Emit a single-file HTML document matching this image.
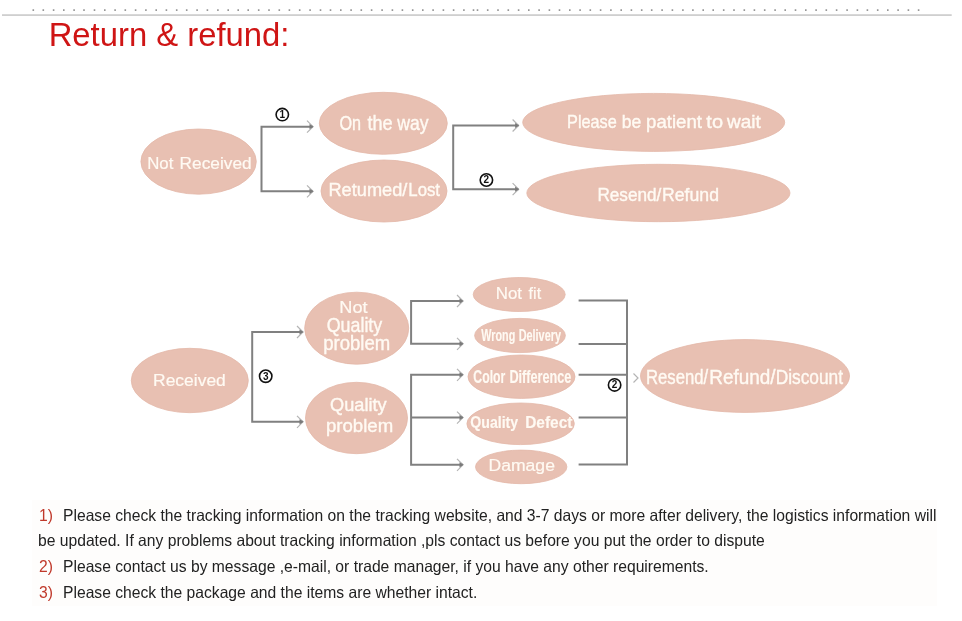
<!DOCTYPE html>
<html><head><meta charset="utf-8"><style>
html,body{margin:0;padding:0;background:#fff;width:962px;height:621px;overflow:hidden;}
body{position:relative;font-family:"Liberation Sans",sans-serif;}
svg{position:absolute;left:0;top:0;will-change:transform;}
.p{position:absolute;font-size:15.67px;color:#222;white-space:pre;line-height:1;will-change:transform;}
.n{color:#c0392b;}
</style></head><body>
<svg width="962" height="621" viewBox="0 0 962 621" font-family="Liberation Sans, sans-serif">
<rect x="32.50" y="9.3" width="1.6" height="1.6" fill="#8c8c8c"/><rect x="42.50" y="9.3" width="1.6" height="1.6" fill="#8c8c8c"/><rect x="52.80" y="9.3" width="1.6" height="1.6" fill="#8c8c8c"/><rect x="63.00" y="9.3" width="1.6" height="1.6" fill="#8c8c8c"/><rect x="73.30" y="9.3" width="1.6" height="1.6" fill="#8c8c8c"/><rect x="83.20" y="9.3" width="1.6" height="1.6" fill="#8c8c8c"/><rect x="93.70" y="9.3" width="1.6" height="1.6" fill="#8c8c8c"/><rect x="104.00" y="9.3" width="1.6" height="1.6" fill="#8c8c8c"/><rect x="114.30" y="9.3" width="1.6" height="1.6" fill="#8c8c8c"/><rect x="124.50" y="9.3" width="1.6" height="1.6" fill="#8c8c8c"/><rect x="134.80" y="9.3" width="1.6" height="1.6" fill="#8c8c8c"/><rect x="145.10" y="9.3" width="1.6" height="1.6" fill="#8c8c8c"/><rect x="155.40" y="9.3" width="1.6" height="1.6" fill="#8c8c8c"/><rect x="165.60" y="9.3" width="1.6" height="1.6" fill="#8c8c8c"/><rect x="175.90" y="9.3" width="1.6" height="1.6" fill="#8c8c8c"/><rect x="185.90" y="9.3" width="1.6" height="1.6" fill="#8c8c8c"/><rect x="196.30" y="9.3" width="1.6" height="1.6" fill="#8c8c8c"/><rect x="206.60" y="9.3" width="1.6" height="1.6" fill="#8c8c8c"/><rect x="217.10" y="9.3" width="1.6" height="1.6" fill="#8c8c8c"/><rect x="227.40" y="9.3" width="1.6" height="1.6" fill="#8c8c8c"/><rect x="237.40" y="9.3" width="1.6" height="1.6" fill="#8c8c8c"/><rect x="247.40" y="9.3" width="1.6" height="1.6" fill="#8c8c8c"/><rect x="257.90" y="9.3" width="1.6" height="1.6" fill="#8c8c8c"/><rect x="268.20" y="9.3" width="1.6" height="1.6" fill="#8c8c8c"/><rect x="278.50" y="9.3" width="1.6" height="1.6" fill="#8c8c8c"/><rect x="288.60" y="9.3" width="1.6" height="1.6" fill="#8c8c8c"/><rect x="298.90" y="9.3" width="1.6" height="1.6" fill="#8c8c8c"/><rect x="309.30" y="9.3" width="1.6" height="1.6" fill="#8c8c8c"/><rect x="319.70" y="9.3" width="1.6" height="1.6" fill="#8c8c8c"/><rect x="329.70" y="9.3" width="1.6" height="1.6" fill="#8c8c8c"/><rect x="340.00" y="9.3" width="1.6" height="1.6" fill="#8c8c8c"/><rect x="350.30" y="9.3" width="1.6" height="1.6" fill="#8c8c8c"/><rect x="360.50" y="9.3" width="1.6" height="1.6" fill="#8c8c8c"/><rect x="370.80" y="9.3" width="1.6" height="1.6" fill="#8c8c8c"/><rect x="381.30" y="9.3" width="1.6" height="1.6" fill="#8c8c8c"/><rect x="391.60" y="9.3" width="1.6" height="1.6" fill="#8c8c8c"/><rect x="401.60" y="9.3" width="1.6" height="1.6" fill="#8c8c8c"/><rect x="411.90" y="9.3" width="1.6" height="1.6" fill="#8c8c8c"/><rect x="422.00" y="9.3" width="1.6" height="1.6" fill="#8c8c8c"/><rect x="432.30" y="9.3" width="1.6" height="1.6" fill="#8c8c8c"/><rect x="442.60" y="9.3" width="1.6" height="1.6" fill="#8c8c8c"/><rect x="452.80" y="9.3" width="1.6" height="1.6" fill="#8c8c8c"/><rect x="463.10" y="9.3" width="1.6" height="1.6" fill="#8c8c8c"/><rect x="472.70" y="9.3" width="1.6" height="1.6" fill="#8c8c8c"/><rect x="476.70" y="9.3" width="1.6" height="1.6" fill="#8c8c8c"/><rect x="486.90" y="9.3" width="1.6" height="1.6" fill="#8c8c8c"/><rect x="497.20" y="9.3" width="1.6" height="1.6" fill="#8c8c8c"/><rect x="507.50" y="9.3" width="1.6" height="1.6" fill="#8c8c8c"/><rect x="517.80" y="9.3" width="1.6" height="1.6" fill="#8c8c8c"/><rect x="528.00" y="9.3" width="1.6" height="1.6" fill="#8c8c8c"/><rect x="538.30" y="9.3" width="1.6" height="1.6" fill="#8c8c8c"/><rect x="548.60" y="9.3" width="1.6" height="1.6" fill="#8c8c8c"/><rect x="558.70" y="9.3" width="1.6" height="1.6" fill="#8c8c8c"/><rect x="569.00" y="9.3" width="1.6" height="1.6" fill="#8c8c8c"/><rect x="579.30" y="9.3" width="1.6" height="1.6" fill="#8c8c8c"/><rect x="589.50" y="9.3" width="1.6" height="1.6" fill="#8c8c8c"/><rect x="599.80" y="9.3" width="1.6" height="1.6" fill="#8c8c8c"/><rect x="610.10" y="9.3" width="1.6" height="1.6" fill="#8c8c8c"/><rect x="620.40" y="9.3" width="1.6" height="1.6" fill="#8c8c8c"/><rect x="630.60" y="9.3" width="1.6" height="1.6" fill="#8c8c8c"/><rect x="640.90" y="9.3" width="1.6" height="1.6" fill="#8c8c8c"/><rect x="650.90" y="9.3" width="1.6" height="1.6" fill="#8c8c8c"/><rect x="661.30" y="9.3" width="1.6" height="1.6" fill="#8c8c8c"/><rect x="671.60" y="9.3" width="1.6" height="1.6" fill="#8c8c8c"/><rect x="682.10" y="9.3" width="1.6" height="1.6" fill="#8c8c8c"/><rect x="692.10" y="9.3" width="1.6" height="1.6" fill="#8c8c8c"/><rect x="702.40" y="9.3" width="1.6" height="1.6" fill="#8c8c8c"/><rect x="712.40" y="9.3" width="1.6" height="1.6" fill="#8c8c8c"/><rect x="722.90" y="9.3" width="1.6" height="1.6" fill="#8c8c8c"/><rect x="733.20" y="9.3" width="1.6" height="1.6" fill="#8c8c8c"/><rect x="743.50" y="9.3" width="1.6" height="1.6" fill="#8c8c8c"/><rect x="753.60" y="9.3" width="1.6" height="1.6" fill="#8c8c8c"/><rect x="763.90" y="9.3" width="1.6" height="1.6" fill="#8c8c8c"/><rect x="774.30" y="9.3" width="1.6" height="1.6" fill="#8c8c8c"/><rect x="784.40" y="9.3" width="1.6" height="1.6" fill="#8c8c8c"/><rect x="794.70" y="9.3" width="1.6" height="1.6" fill="#8c8c8c"/><rect x="805.00" y="9.3" width="1.6" height="1.6" fill="#8c8c8c"/><rect x="815.30" y="9.3" width="1.6" height="1.6" fill="#8c8c8c"/><rect x="825.50" y="9.3" width="1.6" height="1.6" fill="#8c8c8c"/><rect x="835.80" y="9.3" width="1.6" height="1.6" fill="#8c8c8c"/><rect x="846.30" y="9.3" width="1.6" height="1.6" fill="#8c8c8c"/><rect x="856.60" y="9.3" width="1.6" height="1.6" fill="#8c8c8c"/><rect x="866.60" y="9.3" width="1.6" height="1.6" fill="#8c8c8c"/><rect x="876.90" y="9.3" width="1.6" height="1.6" fill="#8c8c8c"/><rect x="887.00" y="9.3" width="1.6" height="1.6" fill="#8c8c8c"/><rect x="897.30" y="9.3" width="1.6" height="1.6" fill="#8c8c8c"/><rect x="907.60" y="9.3" width="1.6" height="1.6" fill="#8c8c8c"/><rect x="917.80" y="9.3" width="1.6" height="1.6" fill="#8c8c8c"/>
<rect x="2" y="14.2" width="949.7" height="1.8" fill="#cfcfcf"/>
<rect x="32" y="500" width="905" height="106" fill="#fefdfc"/>
<text x="48.7" y="46" font-size="32.8" fill="#cf1515">Return &amp; refund:</text>
<ellipse cx="198.6" cy="161.6" rx="57.7" ry="32.6" fill="#e8c0b2" stroke="#e3b7a8" stroke-width="0.8"/>
<ellipse cx="383.3" cy="123.3" rx="64" ry="31" fill="#e8c0b2" stroke="#e3b7a8" stroke-width="0.8"/>
<ellipse cx="384" cy="191" rx="63" ry="31" fill="#e8c0b2" stroke="#e3b7a8" stroke-width="0.8"/>
<ellipse cx="653.7" cy="122.4" rx="131" ry="29" fill="#e8c0b2" stroke="#e3b7a8" stroke-width="0.8"/>
<ellipse cx="658.4" cy="193" rx="131.6" ry="28.7" fill="#e8c0b2" stroke="#e3b7a8" stroke-width="0.8"/>
<ellipse cx="189.8" cy="380.5" rx="58.5" ry="32.2" fill="#e8c0b2" stroke="#e3b7a8" stroke-width="0.8"/>
<ellipse cx="356.7" cy="328.2" rx="52" ry="36" fill="#e8c0b2" stroke="#e3b7a8" stroke-width="0.8"/>
<ellipse cx="356.5" cy="418" rx="51" ry="35.7" fill="#e8c0b2" stroke="#e3b7a8" stroke-width="0.8"/>
<ellipse cx="519.2" cy="294.5" rx="46" ry="17" fill="#e8c0b2" stroke="#e3b7a8" stroke-width="0.8"/>
<ellipse cx="520" cy="335.5" rx="45.4" ry="17.1" fill="#e8c0b2" stroke="#e3b7a8" stroke-width="0.8"/>
<ellipse cx="521.5" cy="376.7" rx="53.5" ry="21.7" fill="#e8c0b2" stroke="#e3b7a8" stroke-width="0.8"/>
<ellipse cx="520.6" cy="423.8" rx="53.7" ry="20.8" fill="#e8c0b2" stroke="#e3b7a8" stroke-width="0.8"/>
<ellipse cx="521.2" cy="466.9" rx="45.7" ry="16.8" fill="#e8c0b2" stroke="#e3b7a8" stroke-width="0.8"/>
<ellipse cx="745" cy="376" rx="104.5" ry="36.4" fill="#e8c0b2" stroke="#e3b7a8" stroke-width="0.8"/>
<polyline points="313,126.7 261.5,126.7 261.5,191.3 313,191.3" fill="none" stroke="#808080" stroke-width="2"/>
<polyline points="518.6,125.5 453.2,125.5 453.2,189.2 518.6,189.2" fill="none" stroke="#808080" stroke-width="2"/>
<polyline points="303,332 252.2,332 252.2,421.8 303,421.8" fill="none" stroke="#808080" stroke-width="2"/>
<polyline points="463,301 411.1,301 411.1,343.8 463,343.8" fill="none" stroke="#808080" stroke-width="2"/>
<polyline points="463,374.8 411.1,374.8 411.1,464.8 463,464.8" fill="none" stroke="#808080" stroke-width="2"/>
<polyline points="411.1,417.6 463,417.6" fill="none" stroke="#808080" stroke-width="2"/>
<polyline points="578.6,300.6 627,300.6 627,464.5 578.6,464.5" fill="none" stroke="#808080" stroke-width="2"/>
<polyline points="578.6,344 627,344" fill="none" stroke="#808080" stroke-width="2"/>
<polyline points="578.6,374.8 627,374.8" fill="none" stroke="#808080" stroke-width="2"/>
<polyline points="578.6,417.6 627,417.6" fill="none" stroke="#808080" stroke-width="2"/>
<polyline points="307,120.7 313,126.7 307,132.7" fill="none" stroke="#b4b4b4" stroke-width="1.2"/>
<polygon points="309.5,124.10000000000001 313.6,126.7 309.5,129.3" fill="#7a7a7a"/>
<polyline points="307,185.3 313,191.3 307,197.3" fill="none" stroke="#b4b4b4" stroke-width="1.2"/>
<polygon points="309.5,188.70000000000002 313.6,191.3 309.5,193.9" fill="#7a7a7a"/>
<polyline points="512.6,119.5 518.6,125.5 512.6,131.5" fill="none" stroke="#b4b4b4" stroke-width="1.2"/>
<polygon points="515.1,122.9 519.2,125.5 515.1,128.1" fill="#7a7a7a"/>
<polyline points="512.6,183.2 518.6,189.2 512.6,195.2" fill="none" stroke="#b4b4b4" stroke-width="1.2"/>
<polygon points="515.1,186.6 519.2,189.2 515.1,191.79999999999998" fill="#7a7a7a"/>
<polyline points="297,326 303,332 297,338" fill="none" stroke="#b4b4b4" stroke-width="1.2"/>
<polygon points="299.5,329.4 303.6,332 299.5,334.6" fill="#7a7a7a"/>
<polyline points="297,415.8 303,421.8 297,427.8" fill="none" stroke="#b4b4b4" stroke-width="1.2"/>
<polygon points="299.5,419.2 303.6,421.8 299.5,424.40000000000003" fill="#7a7a7a"/>
<polyline points="457,295 463,301 457,307" fill="none" stroke="#b4b4b4" stroke-width="1.2"/>
<polygon points="459.5,298.4 463.6,301 459.5,303.6" fill="#7a7a7a"/>
<polyline points="457,337.8 463,343.8 457,349.8" fill="none" stroke="#b4b4b4" stroke-width="1.2"/>
<polygon points="459.5,341.2 463.6,343.8 459.5,346.40000000000003" fill="#7a7a7a"/>
<polyline points="457,368.8 463,374.8 457,380.8" fill="none" stroke="#b4b4b4" stroke-width="1.2"/>
<polygon points="459.5,372.2 463.6,374.8 459.5,377.40000000000003" fill="#7a7a7a"/>
<polyline points="457,411.6 463,417.6 457,423.6" fill="none" stroke="#b4b4b4" stroke-width="1.2"/>
<polygon points="459.5,415.0 463.6,417.6 459.5,420.20000000000005" fill="#7a7a7a"/>
<polyline points="457,458.8 463,464.8 457,470.8" fill="none" stroke="#b4b4b4" stroke-width="1.2"/>
<polygon points="459.5,462.2 463.6,464.8 459.5,467.40000000000003" fill="#7a7a7a"/>
<polyline points="633.5,373.5 638,378 633.5,382.5" fill="none" stroke="#b4b4b4" stroke-width="1.2"/>
<circle cx="282.3" cy="114.6" r="6.2" fill="#fff" stroke="#111" stroke-width="1.6"/>
<text x="282.3" y="118.0" text-anchor="middle" font-size="10" font-weight="bold" fill="#111">1</text>
<circle cx="486.4" cy="180" r="6.2" fill="#fff" stroke="#111" stroke-width="1.6"/>
<text x="486.4" y="183.4" text-anchor="middle" font-size="10" font-weight="bold" fill="#111">2</text>
<circle cx="265.7" cy="376.2" r="6.2" fill="#fff" stroke="#111" stroke-width="1.6"/>
<text x="265.7" y="379.59999999999997" text-anchor="middle" font-size="10" font-weight="bold" fill="#111">3</text>
<circle cx="614.6" cy="384.9" r="6.2" fill="#fff" stroke="#111" stroke-width="1.6"/>
<text x="614.6" y="388.29999999999995" text-anchor="middle" font-size="10" font-weight="bold" fill="#111">2</text>
<text transform="translate(147.21,169) scale(0.9923,1)" font-size="16.93" fill="#fffaf3" stroke="#fffaf3" stroke-width="0.2">Not</text>
<text transform="translate(179.57,169) scale(1.0212,1)" font-size="16.93" fill="#fffaf3" stroke="#fffaf3" stroke-width="0.2">Received</text>
<text transform="translate(339.42,129.9) scale(0.7985,1)" font-size="20.34" fill="#fffaf3" stroke="#fffaf3" stroke-width="0.4">On</text>
<text transform="translate(367.38,129.9) scale(0.8907,1)" font-size="20.34" fill="#fffaf3" stroke="#fffaf3" stroke-width="0.4">the</text>
<text transform="translate(397.35,129.9) scale(0.8667,1)" font-size="20.34" fill="#fffaf3" stroke="#fffaf3" stroke-width="0.4">way</text>
<text transform="translate(328.49,195.9) scale(0.9893,1)" font-size="18.39" fill="#fffaf3" stroke="#fffaf3" stroke-width="0.4">Retumed/</text>
<text transform="translate(408.31,195.9) scale(0.9125,1)" font-size="18.39" fill="#fffaf3" stroke="#fffaf3" stroke-width="0.4">Lost</text>
<text transform="translate(567.05,127.9) scale(0.8775,1)" font-size="18.55" fill="#fffaf3" stroke="#fffaf3" stroke-width="0.4">Please</text>
<text transform="translate(621.81,127.9) scale(0.9433,1)" font-size="18.55" fill="#fffaf3" stroke="#fffaf3" stroke-width="0.4">be</text>
<text transform="translate(646.04,127.9) scale(1.0063,1)" font-size="18.55" fill="#fffaf3" stroke="#fffaf3" stroke-width="0.4">patient</text>
<text transform="translate(706.35,127.9) scale(1.0781,1)" font-size="18.55" fill="#fffaf3" stroke="#fffaf3" stroke-width="0.4">to</text>
<text transform="translate(726.95,127.9) scale(1.0232,1)" font-size="18.55" fill="#fffaf3" stroke="#fffaf3" stroke-width="0.4">wait</text>
<text transform="translate(597.38,200.8) scale(0.9395,1)" font-size="18.28" fill="#fffaf3" stroke="#fffaf3" stroke-width="0.4">Resend/</text>
<text transform="translate(662.04,200.8) scale(0.9664,1)" font-size="18.28" fill="#fffaf3" stroke="#fffaf3" stroke-width="0.4">Refund</text>
<text transform="translate(153.05,385.8) scale(1.0141,1)" font-size="17.22" fill="#fffaf3" stroke="#fffaf3" stroke-width="0.2">Received</text>
<text transform="translate(339.30,313.2) scale(1.0457,1)" font-size="17.37" fill="#fffaf3" stroke="#fffaf3" stroke-width="0.2">Not</text>
<text transform="translate(326.75,332.2) scale(0.9015,1)" font-size="19.79" fill="#fffaf3" stroke="#fffaf3" stroke-width="0.4">Quality</text>
<text transform="translate(323.14,349.6) scale(0.9511,1)" font-size="19.52" fill="#fffaf3" stroke="#fffaf3" stroke-width="0.4">problem</text>
<text transform="translate(330.03,410.8) scale(0.9960,1)" font-size="18.28" fill="#fffaf3" stroke="#fffaf3" stroke-width="0.4">Quality</text>
<text transform="translate(325.94,432) scale(0.9890,1)" font-size="18.83" fill="#fffaf3" stroke="#fffaf3" stroke-width="0.4">problem</text>
<text transform="translate(495.80,299.1) scale(0.9878,1)" font-size="17.08" fill="#fffaf3" stroke="#fffaf3" stroke-width="0.2">Not</text>
<text transform="translate(528.61,299.1) scale(0.9462,1)" font-size="17.08" fill="#fffaf3" stroke="#fffaf3" stroke-width="0.2">fit</text>
<text transform="translate(481.35,341.2) scale(0.6534,1)" font-size="16.50" font-weight="bold" fill="#fffaf3" stroke="#fffaf3" stroke-width="0.15">Wrong</text>
<text transform="translate(518.64,341.2) scale(0.6601,1)" font-size="16.50" font-weight="bold" fill="#fffaf3" stroke="#fffaf3" stroke-width="0.15">Delivery</text>
<text transform="translate(473.36,382.5) scale(0.6825,1)" font-size="17.95" font-weight="bold" fill="#fffaf3" stroke="#fffaf3" stroke-width="0.15">Color</text>
<text transform="translate(509.43,382.5) scale(0.7060,1)" font-size="17.95" font-weight="bold" fill="#fffaf3" stroke="#fffaf3" stroke-width="0.15">Difference</text>
<text transform="translate(470.28,428.2) scale(0.8725,1)" font-size="16.21" font-weight="bold" fill="#fffaf3" stroke="#fffaf3" stroke-width="0.15">Quality</text>
<text transform="translate(525.14,428.2) scale(0.9545,1)" font-size="16.21" font-weight="bold" fill="#fffaf3" stroke="#fffaf3" stroke-width="0.15">Defect</text>
<text transform="translate(488.44,471.4) scale(1.0479,1)" font-size="16.79" fill="#fffaf3" stroke="#fffaf3" stroke-width="0.2">Damage</text>
<text transform="translate(646.01,383.6) scale(0.8608,1)" font-size="19.40" fill="#fffaf3" stroke="#fffaf3" stroke-width="0.4">Resend/</text>
<text transform="translate(709.23,383.6) scale(0.9765,1)" font-size="19.40" fill="#fffaf3" stroke="#fffaf3" stroke-width="0.4">Refund/</text>
<text transform="translate(775.66,383.6) scale(0.8939,1)" font-size="19.40" fill="#fffaf3" stroke="#fffaf3" stroke-width="0.4">Discount</text>
</svg>
<div class="p" style="left:38.5px;top:508.2px"><span class="n">1)</span></div>
<div class="p" style="left:62.9px;top:508.2px">Please check the tracking information on the tracking website, and 3-7 days or more after delivery, the logistics information will</div>
<div class="p" style="left:38px;top:533.2px">be updated. If any problems about tracking information ,pls contact us before you put the order to dispute</div>
<div class="p" style="left:38.5px;top:559.2px"><span class="n">2)</span></div>
<div class="p" style="left:62.9px;top:559.2px">Please contact us by message ,e-mail, or trade manager, if you have any other requirements.</div>
<div class="p" style="left:38.5px;top:585.2px"><span class="n">3)</span></div>
<div class="p" style="left:62.9px;top:585.2px">Please check the package and the items are whether intact.</div>
</body></html>
